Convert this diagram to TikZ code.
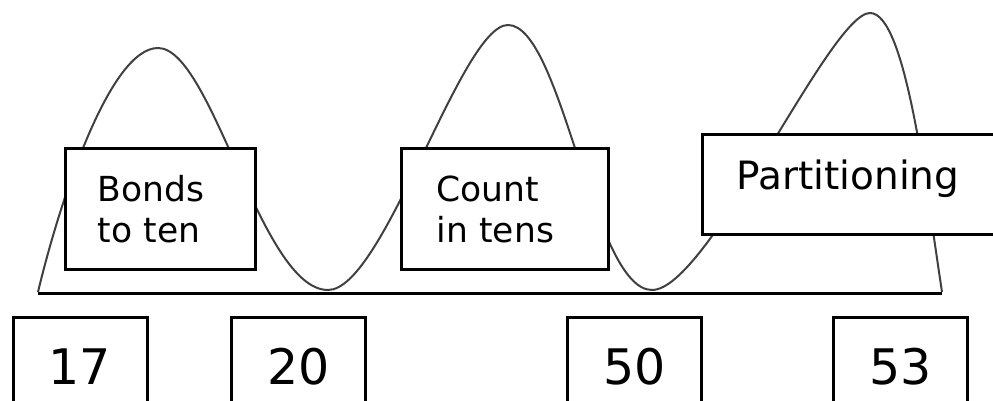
\documentclass[tikz,border=0pt]{standalone}
\usepackage{fontspec}
\setmainfont{DejaVu Sans}
\usepackage{tikz}
\usetikzlibrary{positioning}

\begin{document}
\begin{tikzpicture}[
    x=1pt, y=-1pt,
    topic/.style={draw, line width=3pt, fill=white, anchor=north west, align=left,
        minimum height=121pt, font=\fontsize{34.5}{41}\selectfont},
    numbox/.style={draw, line width=3pt, fill=white, anchor=north, minimum width=134pt,
        minimum height=110pt, text height=36pt, text depth=12pt,
        font=\fontsize{49}{55}\selectfont},
    wave/.style={line width=2pt, black!75}
]
    \useasboundingbox (0,0) rectangle (993,401);
    \clip (0,0) rectangle (993,401);

    % the jumps
    \draw[wave] (38,292) .. controls (60,200) and (110,48) .. (158,48)
        .. controls (212,48) and (261,290) .. (328,290)
        .. controls (384,290) and (461,25) .. (508,25)
        .. controls (562,25) and (593,290) .. (652,290)
        .. controls (708,290) and (830,13) .. (870,13)
        .. controls (905,13) and (925,180) .. (942,292);

    % number line
    \coordinate (lineL) at (38,293);
    \coordinate (lineR) at (942,293);
    \draw[line width=3pt] (lineL) -- (lineR);

    % strategies
    \node[topic, text width=126pt, inner xsep=32pt] (bonds) at (64,147) {Bonds\\to ten};
    \node[topic, text width=137pt, inner xsep=35pt] (count) at (400,147) {Count\\in tens};
    \node[topic, text width=232pt, inner xsep=34pt, minimum height=100pt,
        text height=28pt, text depth=18pt, font=\fontsize{39}{41}\selectfont]
        (parts) at (701,133) {Partitioning};

    % numbers
    \node[numbox] (n17) at (80,316) {17};
    \node[numbox] (n20) at (298.5,316) {20};
    \node[numbox] (n50) at (634.5,316) {50};
    \node[numbox] (n53) at (900.5,316) {53};
\end{tikzpicture}
\end{document}
